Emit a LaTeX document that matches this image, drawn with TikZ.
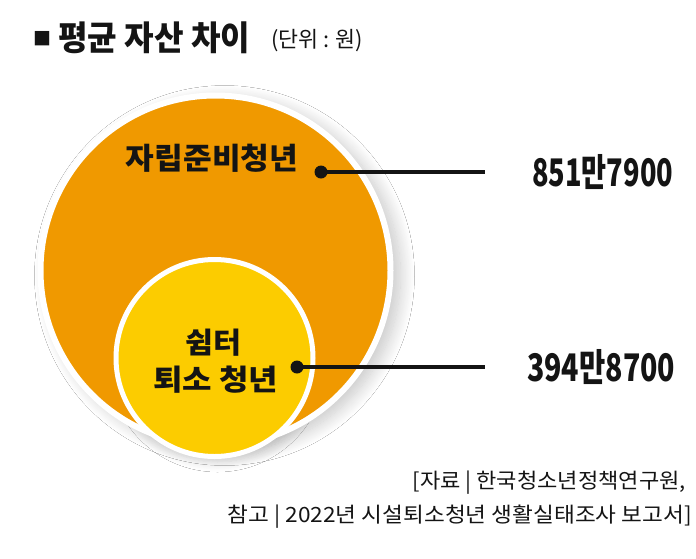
\documentclass[tikz,border=0pt]{standalone}
\usepackage{fontspec}
\usepackage{graphicx}
\setmainfont{Noto Sans CJK KR}
\newfontfamily\krfont{Noto Sans CJK KR}
\usetikzlibrary{shadows.blur}
\definecolor{bigorange}{RGB}{240,153,0}
\definecolor{smallyellow}{RGB}{252,204,0}
\definecolor{inkblack}{RGB}{20,20,20}
\tikzset{
  lbltext/.style={inner sep=0pt, text=inkblack, font=\krfont\bfseries},
  numtext/.style={inner sep=0pt, anchor=west, text=inkblack, font=\krfont\bfseries\fontsize{38}{40}\selectfont},
  foottext/.style={inner sep=0pt, anchor=east, text=inkblack, font=\krfont\fontsize{21}{24}\selectfont},
  leader/.style={line width=3.2pt, draw=inkblack},
  dotmark/.style={circle, fill=inkblack, minimum size=13pt, inner sep=0pt},
}
\begin{document}
\begin{tikzpicture}[x=1pt,y=-1pt]
\useasboundingbox (0,0) rectangle (696,558);
\fill[white] (0,0) rectangle (696,558);
% shadows
\path[blur shadow={shadow xshift=9pt, shadow yshift=-5pt, shadow blur radius=14pt, shadow blur steps=20, shadow opacity=22}]
  (215.5,270.5) circle[radius=176];
\path[blur shadow={shadow xshift=3pt, shadow yshift=-5pt, shadow blur radius=10pt, shadow blur steps=16, shadow opacity=16}]
  (214.5,358) circle[radius=99];
% big circle
\path[fill=bigorange, draw=white, line width=6pt] (215.5,270.5) circle[radius=175];
% small circle
\path[fill=smallyellow, draw=white, line width=5pt] (214.5,358) circle[radius=98.5];
% title
\node[inner sep=0pt, text=inkblack, font=\krfont\fontsize{18}{18}\selectfont] (sq) at (42,38.5) {■};
\node[lbltext, anchor=west, font=\krfont\bfseries\fontsize{34}{36}\selectfont] (title) at (58,37.5)
  {\resizebox{192pt}{\height}{평균 자산 차이}};
\node[inner sep=0pt, anchor=west, text=inkblack, font=\krfont\fontsize{22}{24}\selectfont] (unit) at (271,41)
  {\resizebox{92pt}{\height}{(단위 : 원)}};
% labels
\node[lbltext, font=\krfont\bfseries\fontsize{30}{32}\selectfont] (biglbl) at (212,158)
  {\resizebox{172pt}{\height}{자립준비청년}};
\node[lbltext, font=\krfont\bfseries\fontsize{29}{31}\selectfont] (smlbla) at (213,343)
  {\resizebox{56pt}{\height}{쉼터}};
\node[lbltext, font=\krfont\bfseries\fontsize{29}{31}\selectfont] (smlblb) at (215.5,380)
  {\resizebox{125pt}{\height}{퇴소 청년}};
% leaders
\node[dotmark] (dota) at (321,172) {};
\coordinate (enda) at (485,172);
\draw[leader] (dota.center) -- (enda);
\node[dotmark] (dotb) at (297,367) {};
\coordinate (endb) at (485,367);
\draw[leader] (dotb.center) -- (endb);
% numbers
\node[numtext] (numa) at (532,172) {\resizebox{141pt}{\height}{851만7900}};
\node[numtext] (numb) at (527,367) {\resizebox{148pt}{\height}{394만8700}};
% footer
\node[foottext] (srca) at (686,483) {\resizebox{273pt}{\height}{[자료 | 한국청소년정책연구원,}};
\node[foottext] (srcb) at (692,517) {\resizebox{464pt}{\height}{참고 | 2022년 시설퇴소청년 생활실태조사 보고서]}};
\end{tikzpicture}
\end{document}
